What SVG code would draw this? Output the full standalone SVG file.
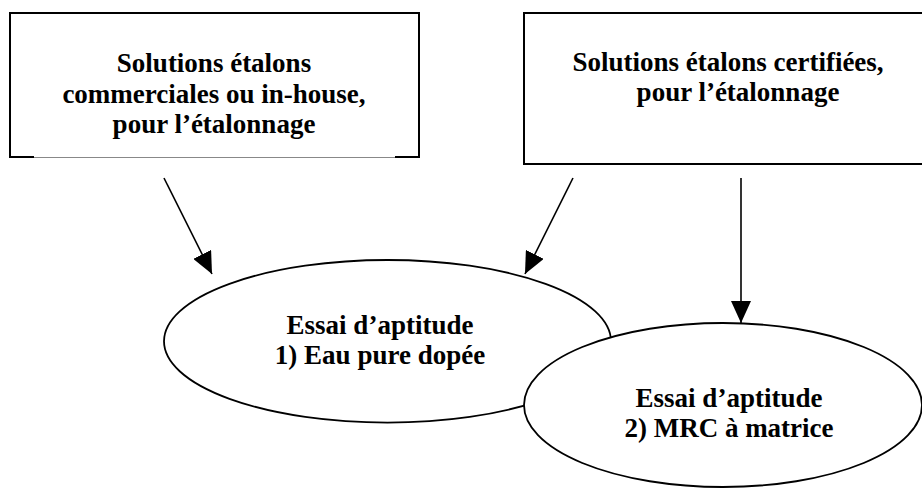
<svg xmlns="http://www.w3.org/2000/svg" width="922" height="488" viewBox="0 0 922 488">
<style>
.t{font-family:"Liberation Serif","Times New Roman",serif;font-weight:bold;font-size:27px;fill:#000;text-anchor:middle}
.b{fill:#fff;stroke:#000;stroke-width:2}
.e{fill:#fff;stroke:#000;stroke-width:1.8}
.c{stroke:#000;stroke-width:1.6;fill:none}
</style>
<defs>
<marker id="ah" markerUnits="userSpaceOnUse" markerWidth="22" markerHeight="20" refX="22" refY="10" orient="auto">
<path d="M0,0 L22,10 L0,20 z" fill="#000"/>
</marker>
</defs>
<rect width="922" height="488" fill="#fff"/>
<g id="box-left">
<path d="M10,157 L10,13 L419,13 L419,157" class="b" fill="none"/>
<line x1="10" y1="157.5" x2="419" y2="157.5" stroke="#888" stroke-width="1"/>
<line x1="9" y1="157" x2="34" y2="157" stroke="#000" stroke-width="2"/>
<line x1="395" y1="157" x2="420" y2="157" stroke="#000" stroke-width="2"/>
<text class="t" x="214" y="72">Solutions étalons</text>
<text class="t" x="214" y="103">commerciales ou in-house,</text>
<text class="t" x="214" y="133">pour l’étalonnage</text>
</g>
<g id="box-right">
<rect x="524" y="13" width="420" height="151" class="b"/>
<text class="t" x="728" y="71">Solutions étalons certifiées,</text>
<text class="t" x="738" y="101">pour l’étalonnage</text>
</g>
<g id="connectors">
<line x1="164" y1="178" x2="212" y2="274" class="c" marker-end="url(#ah)"/>
<line x1="573" y1="178" x2="525" y2="274" class="c" marker-end="url(#ah)"/>
<line x1="741" y1="178" x2="741" y2="323" class="c" marker-end="url(#ah)"/>
</g>
<g id="ellipse-1">
<ellipse cx="387.5" cy="341.3" rx="223.5" ry="81.3" class="e"/>
<text class="t" x="380" y="334">Essai d’aptitude</text>
<text class="t" x="380" y="364">1) Eau pure dopée</text>
</g>
<g id="ellipse-2">
<ellipse cx="723" cy="405" rx="199" ry="82" class="e"/>
<text class="t" x="729" y="407">Essai d’aptitude</text>
<text class="t" x="729" y="437">2) MRC à matrice</text>
</g>
</svg>
